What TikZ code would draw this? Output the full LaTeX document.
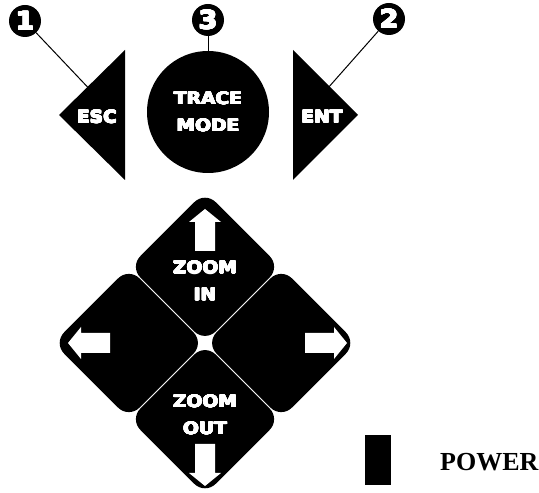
\documentclass[tikz,border=0pt]{standalone}
\usepackage{fontspec}
\setmainfont{Liberation Serif}
\newfontfamily\keyfont[FakeStretch=1.1]{DejaVu Sans Bold}
\usepackage[copies]{contour}
\contourlength{0.45pt}
\contournumber{16}
\usepackage{tikz}
\usetikzlibrary{positioning}
\usetikzlibrary{shapes.geometric, arrows}

% heavy white key text
\newcommand{\keytext}[1]{\contour{white}{#1}}

% white block arrow, tip at #1, turned by #2
\newcommand{\padarrow}[2]{%
    \fill[white, shift={#1}, rotate=#2]
        (0, 0) -- (-13, 16) -- (-13, 10) -- (-42, 10) -- (-42, -10)
        -- (-13, -10) -- (-13, -16) -- cycle;
}

\begin{document}
\begin{tikzpicture}
    [
        x=1pt, y=1pt,
        keylabel/.style={align=center, text=white, inner sep=0pt,
            font=\keyfont\fontsize{17}{27}\selectfont},
        callout/.style={circle, fill=black, minimum size=32pt, inner sep=0pt,
            text=white, font=\keyfont\fontsize{25}{25}\selectfont},
        padkey/.style={rectangle, rounded corners=15pt, fill=black,
            minimum size=106.5pt, inner sep=0pt, rotate=45},
        leader/.style={line width=1pt}
    ]
        \useasboundingbox (0, 0) rectangle (539, 493);

        % top row
        \fill (125, 443) -- (125, 313) -- (59, 378) -- cycle;
        \fill (293, 443) -- (293, 313) -- (358, 378) -- cycle;
        \node[keylabel] (esc) at (97, 376) {\keytext{ESC}};
        \node[keylabel] (ent) at (322, 376) {\keytext{ENT}};
        \node
        [
            keylabel,
            circle,
            fill=black,
            minimum size=122pt
        ] (trace) at (208, 381) {\keytext{TRACE}\\\keytext{MODE}};

        % callouts
        \node[callout] (c1) at (25, 472) {\keytext{1}};
        \node[callout] (c3) at (208, 473) {\keytext{3}};
        \node[callout] (c2) at (389, 474) {\keytext{2}};
        \coordinate (esctip) at (97, 396);
        \coordinate (tracetip) at (208, 410);
        \coordinate (enttip) at (320, 396);
        \draw[leader] (c1) -- (esctip);
        \draw[leader] (c3) -- (tracetip);
        \draw[leader] (c2) -- (enttip);

        % direction pad
        \node[padkey] (zoomin) at (205, 226.2) {};
        \node[padkey] (zoomout) at (205, 73.8) {};
        \node[padkey] (left) at (128.8, 150) {};
        \node[padkey] (right) at (281.2, 150) {};
        \padarrow{(205, 284)}{90}
        \padarrow{(205, 7)}{-90}
        \padarrow{(68, 150)}{180}
        \padarrow{(347, 150)}{0}
        \node[keylabel] (zintext) at (205, 212) {\keytext{ZOOM}\\\keytext{IN}};
        \node[keylabel] (zouttext) at (205, 78) {\keytext{ZOOM}\\\keytext{OUT}};

        % power
        \node
        [
            rectangle,
            fill=black,
            minimum width=26pt,
            minimum height=50pt,
            inner sep=0pt
        ] (power) at (378, 33) {};
        \node
        [
            anchor=west,
            inner sep=0pt,
            font=\bfseries\fontsize{26}{26}\selectfont
        ] (powertext) at (440, 31) {POWER};
    \end{tikzpicture}
\end{document}
